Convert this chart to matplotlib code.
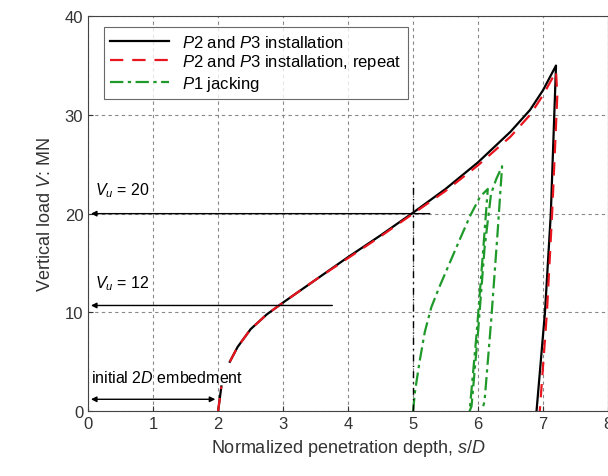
import matplotlib
matplotlib.use("Agg")
import matplotlib.pyplot as plt

plt.rcParams["font.family"] = ["Liberation Sans", "DejaVu Sans"]
plt.rcParams["mathtext.fontset"] = "custom"
plt.rcParams["mathtext.rm"] = "Liberation Sans"
plt.rcParams["mathtext.it"] = "Liberation Sans:italic"

# P2 and P3 installation (s/D, V in MN)
inst_x0 = [2.0, 2.05]
inst_y0 = [0.0, 2.5]
inst_x = [2.18, 2.3, 2.5, 2.75, 3.0, 3.5, 4.0, 4.5, 5.0, 5.5, 6.0, 6.5, 6.8, 7.0, 7.2, 7.12, 7.03, 6.9]
inst_y = [5.0, 6.5, 8.3, 9.8, 11.0, 13.3, 15.6, 17.8, 20.1, 22.5, 25.2, 28.3, 30.5, 32.5, 35.0, 20.0, 10.0, 0.0]

# repeat
rep_x = [2.0, 2.05]
rep_y = [0.0, 2.5]
rep2_x = [2.18, 2.3, 2.5, 2.75, 3.0, 3.5, 4.0, 4.5, 5.0, 5.5, 6.0, 6.5, 6.8, 7.0, 7.2, 7.22, 7.14, 7.06, 6.95]
rep2_y = [5.0, 6.5, 8.3, 9.8, 11.0, 13.3, 15.5, 17.7, 20.0, 22.3, 24.9, 27.8, 30.0, 32.0, 34.4, 32.0, 20.0, 10.0, 0.0]

# P1 jacking
jack_x = [5.0, 5.03, 5.1, 5.18, 5.28, 5.4, 5.55, 5.72, 5.88, 6.03, 6.15,
          6.08, 5.98, 5.87,
          5.9, 6.0, 6.1, 6.2, 6.28, 6.37,
          6.3, 6.2, 6.1, 6.08]
jack_y = [0.0, 2.0, 5.0, 8.0, 10.5, 12.5, 14.8, 17.4, 19.8, 21.7, 22.5,
          16.4, 8.0, 0.0,
          0.5, 8.0, 16.5, 22.0, 23.5, 24.8,
          18.0, 9.0, 1.0, 0.5]

fig = plt.figure(figsize=(6.08, 4.77), dpi=100)
ax = fig.add_axes([0.145, 0.136, 0.855, 0.828])

ax.grid(True, color="#888888", linestyle=(0, (3, 3)), linewidth=0.8)
ax.set_axisbelow(True)

ax.plot(inst_x0, inst_y0, color="black", lw=1.6)
ax.plot(inst_x, inst_y, color="black", lw=1.6, label="$P2$ and $P3$ installation")
ax.plot(rep_x, rep_y, color="#e8141e", lw=1.6, dashes=(6, 4))
ax.plot(rep2_x, rep2_y, color="#e8141e", lw=1.6, dashes=(6, 4),
        label="$P2$ and $P3$ installation, repeat")
ax.plot(jack_x, jack_y, color="#1f9a2a", lw=1.6, linestyle=(0, (6, 2, 1.5, 2)),
        label="$P1$ jacking")

# reference line at s/D = 5
ax.plot([5, 5], [0, 23.5], color="black", lw=1.0, linestyle=(0, (5, 3, 1, 3)))

# V_u annotations
ax.annotate("", xy=(0, 20), xytext=(5.3, 20),
            arrowprops=dict(arrowstyle="-|>", color="black", lw=1.0, mutation_scale=8))
ax.text(0.1, 22.4, "$V_u$ = 20", fontsize=11.5, va="center")
ax.annotate("", xy=(0, 10.7), xytext=(3.8, 10.7),
            arrowprops=dict(arrowstyle="-|>", color="black", lw=1.0, mutation_scale=8))
ax.text(0.1, 13.0, "$V_u$ = 12", fontsize=11.5, va="center")
ax.annotate("", xy=(0, 1.2), xytext=(2.0, 1.2),
            arrowprops=dict(arrowstyle="<|-|>", color="black", lw=1.0, mutation_scale=8))
ax.text(0.05, 3.5, "initial $2D$ embedment", fontsize=11.5, va="center")

ax.set_xlim(0, 8)
ax.set_ylim(0, 40)
ax.set_xticks(range(0, 9))
ax.set_yticks(range(0, 41, 10))
ax.tick_params(direction="in", labelsize=12, colors="#333333")
ax.set_xlabel("Normalized penetration depth, $s/D$", fontsize=13, color="#333333")
ax.set_ylabel("Vertical load $V$: MN", fontsize=13, color="#333333", labelpad=8)
for s in ax.spines.values():
    s.set_color("#444444")

leg = ax.legend(loc="upper left", bbox_to_anchor=(0.02, 0.985), fontsize=12,
                frameon=True, fancybox=False, edgecolor="#444444",
                handlelength=3.5, borderaxespad=0.3, labelspacing=0.15)
leg.get_frame().set_linewidth(0.8)

fig.savefig("out.png", dpi=100)
